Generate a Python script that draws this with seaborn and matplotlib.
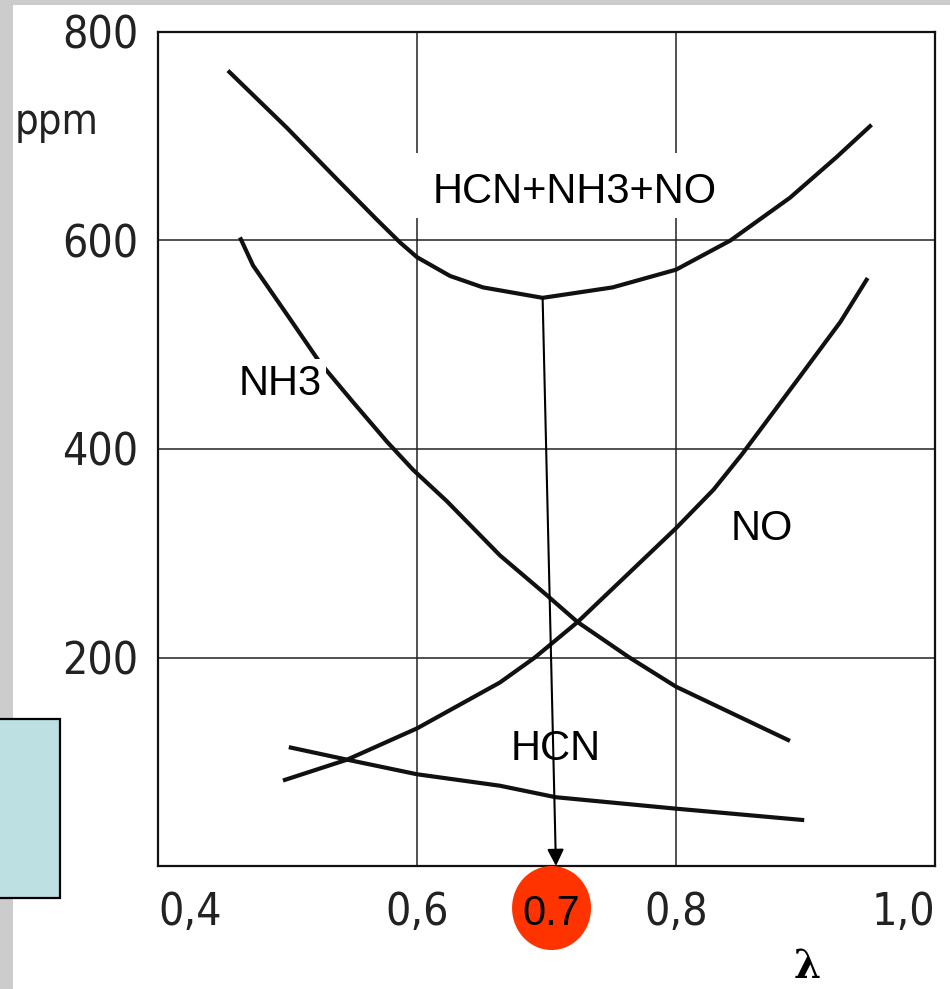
import numpy as np
import pandas as pd
import matplotlib
matplotlib.use("Agg")
import matplotlib.pyplot as plt
import matplotlib.font_manager as fm
from matplotlib.patches import Rectangle, Ellipse
import seaborn as sns

# ---------------- data ----------------
lam_total = [0.454, 0.4996, 0.538, 0.569, 0.587, 0.600, 0.6255, 0.651, 0.697, 0.751, 0.800, 0.842, 0.888, 0.924, 0.951]
ppm_total = [763, 708, 659, 620, 598, 584, 566, 555, 545, 555, 572, 600, 641, 680, 711]

lam_nh3 = [0.4633, 0.4734, 0.4996, 0.525, 0.5506, 0.5768, 0.597, 0.623, 0.664, 0.700, 0.724, 0.764, 0.800, 0.888]
ppm_nh3 = [603, 576, 529, 483, 445, 407, 380, 350, 298, 260, 234, 200, 172, 120]

lam_no = [0.4965, 0.546, 0.600, 0.664, 0.691, 0.724, 0.800, 0.829, 0.851, 0.896, 0.927, 0.948]
ppm_no = [82, 102, 132, 176, 200, 234, 324, 361, 395, 470, 522, 564]

lam_hcn = [0.501, 0.546, 0.600, 0.664, 0.707, 0.800, 0.899]
ppm_hcn = [114, 102, 88, 77, 66, 55, 44]

x_ticks = [0.4, 0.6, 0.8, 1.0]
x_tick_labels = ["0,4", "0,6", "0,8", "1,0"]
y_ticks = [200, 400, 600, 800]
y_tick_labels = ["200", "400", "600", "800"]

optimum_label = "0.7"

series_names = ["HCN+NH3+NO", "NH3", "NO", "HCN"]

df = pd.concat([
    pd.DataFrame({"lam": lam_total, "ppm": ppm_total, "gas": series_names[0]}),
    pd.DataFrame({"lam": lam_nh3, "ppm": ppm_nh3, "gas": series_names[1]}),
    pd.DataFrame({"lam": lam_no, "ppm": ppm_no, "gas": series_names[2]}),
    pd.DataFrame({"lam": lam_hcn, "ppm": ppm_hcn, "gas": series_names[3]}),
], ignore_index=True)

# ---------------- style ----------------
sns.set_style("white")
plt.rcParams["font.family"] = ["Liberation Sans", "DejaVu Sans"]

names = {f.name for f in fm.fontManager.ttflist}
if "Liberation Sans Narrow" in names:
    tick_family, tick_stretch = "Liberation Sans Narrow", "normal"
else:
    tick_family, tick_stretch = "DejaVu Sans", "condensed"

W, H = 950, 989
fig = plt.figure(figsize=(W / 100, H / 100), dpi=100, facecolor="#cccccc")
fig.patches.append(Rectangle((13 / W, 0), 1, 984 / H, transform=fig.transFigure,
                             facecolor="white", edgecolor="none", zorder=-10))

ax = fig.add_axes([158 / W, 123 / H, 777 / W, 834 / H])
ax.set_facecolor("white")

sns.lineplot(data=df, x="lam", y="ppm", hue="gas", units="gas", estimator=None,
             palette={n: "#111111" for n in series_names}, legend=False,
             sort=False, linewidth=3.0, ax=ax, zorder=2)
for ln in ax.get_lines():
    ln.set_solid_joinstyle("round")
    ln.set_solid_capstyle("butt")

ax.set_xlim(0.4, 1.0)
ax.set_ylim(0, 800)
ax.set_xticks(x_ticks)
ax.set_xticklabels(x_tick_labels)
ax.set_yticks(y_ticks)
ax.set_yticklabels(y_tick_labels)
ax.set_xlabel("")
ax.set_ylabel("")
ax.grid(True, color="#222222", linewidth=1.1)
ax.set_axisbelow(True)
ax.tick_params(axis="x", length=0, pad=18)
ax.tick_params(axis="y", length=0, pad=14)
for sp in ax.spines.values():
    sp.set_visible(True)
    sp.set_color("#111111")
    sp.set_linewidth(1.6)

for lab in ax.get_xticklabels() + ax.get_yticklabels():
    lab.set_fontfamily(tick_family)
    lab.set_fontstretch(tick_stretch)
    lab.set_fontsize(32)
    lab.set_color("#222222")
xl = ax.get_xticklabels()
xl[0].set_horizontalalignment("left")
xl[-1].set_horizontalalignment("right")

# white box behind the total label (breaks the grid lines as in the reference)
ax.add_patch(Rectangle((0.5946, 622), 0.2534, 62, facecolor="white",
                       edgecolor="none", zorder=1))
ax.text(0.722, 636, series_names[0], ha="center", va="baseline",
        fontsize=30, color="black", zorder=3)
ax.text(0.494, 452, series_names[1], ha="center", va="baseline", fontsize=30,
        color="black", zorder=3,
        bbox=dict(boxstyle="square,pad=0.12", facecolor="white", edgecolor="none"))
ax.text(0.866, 313, series_names[2], ha="center", va="baseline", fontsize=30,
        color="black", zorder=3,
        bbox=dict(boxstyle="square,pad=0.3", facecolor="white", edgecolor="none"))
ax.text(0.707, 102, series_names[3], ha="center", va="baseline", fontsize=30,
        color="black", zorder=3)

# arrow from the minimum of the total curve down to the axis
i_min = int(np.argmin(ppm_total))
ax.annotate("", xy=(0.7073, 0), xytext=(lam_total[i_min], ppm_total[i_min]),
            arrowprops=dict(arrowstyle="-|>", color="black", lw=1.5,
                            mutation_scale=25, shrinkA=0, shrinkB=0),
            zorder=4, annotation_clip=False)

# red marker with the optimum value
ax.add_patch(Ellipse((0.7039, -40.3), 0.061, 80.6, facecolor="#ff3300",
                     edgecolor="none", clip_on=False, zorder=5))
ax.text(0.7034, -56.6, optimum_label, ha="center", va="baseline", fontsize=30,
        color="black", zorder=6, clip_on=False)

# axis titles
fig.text(57 / W, 1 - 134 / H, "ppm", ha="center", va="baseline",
         fontsize=30, family=tick_family, fontstretch=tick_stretch, color="#222222")
fig.text(807 / W, 11 / H, "λ", ha="center", va="baseline",
         fontsize=28, family=["DejaVu Serif"], fontweight="bold", color="black")

# light blue box on the left edge
fig.patches.append(Rectangle((-5 / W, 91 / H), 65 / W, 179 / H, transform=fig.transFigure,
                             facecolor="#bde0e3", edgecolor="black", linewidth=1.6,
                             zorder=5))

fig.savefig("out.png", dpi=100, facecolor=fig.get_facecolor())
